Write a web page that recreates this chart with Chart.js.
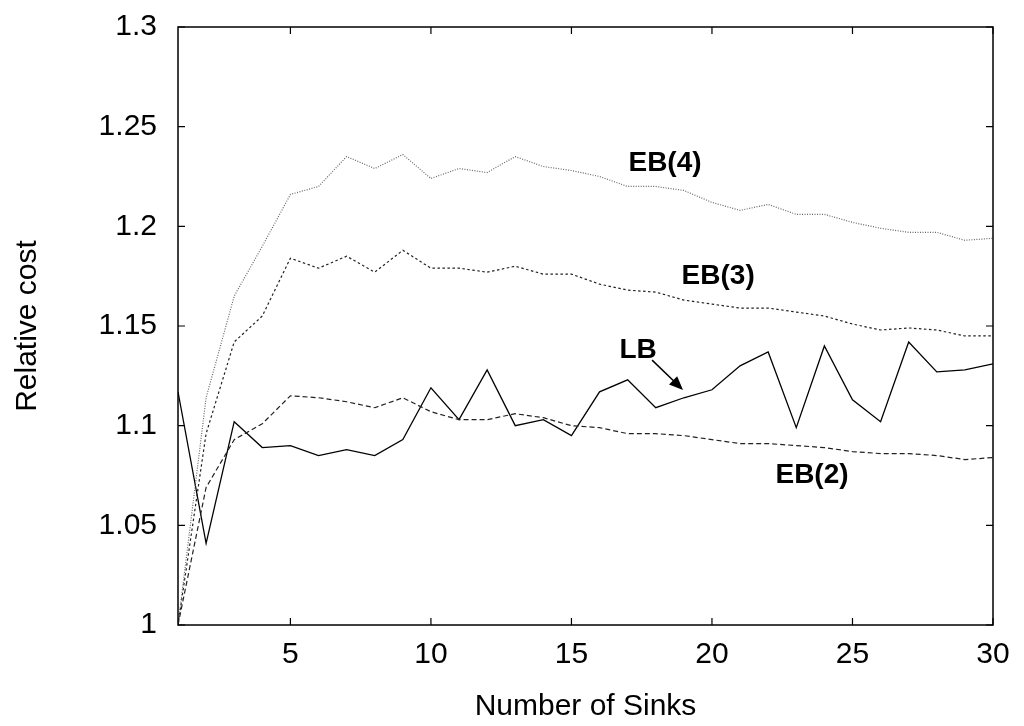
<!DOCTYPE html>
<html>
<head>
<meta charset="utf-8">
<script src="https://cdn.jsdelivr.net/npm/chart.js@4.4.0/dist/chart.umd.min.js"></script>
<style>
  body { margin: 0; background: #fff; }
  #wrap { width: 1024px; height: 726px; }
</style>
</head>
<body>
<div id="wrap"><canvas id="myChart"></canvas></div>
<script>
// number of sinks 1..30
const sinks = [];
for (let i = 1; i <= 30; i++) sinks.push(i);

const lbCost = [1.117, 1.041, 1.102, 1.089, 1.090, 1.085, 1.088, 1.085, 1.093, 1.119,
                1.103, 1.128, 1.100, 1.103, 1.095, 1.117, 1.123, 1.109, 1.114, 1.118,
                1.130, 1.137, 1.099, 1.140, 1.113, 1.102, 1.142, 1.127, 1.128, 1.131];
const eb2Cost = [1.000, 1.069, 1.093, 1.101, 1.115, 1.114, 1.112, 1.109, 1.114, 1.107,
                 1.103, 1.103, 1.106, 1.104, 1.100, 1.099, 1.096, 1.096, 1.095, 1.093,
                 1.091, 1.091, 1.090, 1.089, 1.087, 1.086, 1.086, 1.085, 1.083, 1.084];
const eb3Cost = [1.000, 1.096, 1.142, 1.155, 1.184, 1.179, 1.185, 1.177, 1.188, 1.179,
                 1.179, 1.177, 1.180, 1.176, 1.176, 1.171, 1.168, 1.167, 1.163, 1.161,
                 1.159, 1.159, 1.157, 1.155, 1.151, 1.148, 1.149, 1.148, 1.145, 1.145];
const eb4Cost = [1.000, 1.114, 1.165, 1.190, 1.216, 1.220, 1.235, 1.229, 1.236, 1.224,
                 1.229, 1.227, 1.235, 1.230, 1.228, 1.225, 1.220, 1.220, 1.218, 1.212,
                 1.208, 1.211, 1.206, 1.206, 1.202, 1.199, 1.197, 1.197, 1.193, 1.194];

const xTicks = [5, 10, 15, 20, 25, 30];
const yTicks = [1, 1.05, 1.1, 1.15, 1.2, 1.25, 1.3];

// curve labels, in data coordinates
const curveLabels = [
  { text: 'EB(4)', x: 18.33, y: 1.2318 },
  { text: 'EB(3)', x: 20.22, y: 1.175 },
  { text: 'LB', x: 17.37, y: 1.138 },
  { text: 'EB(2)', x: 23.56, y: 1.0752 }
];
const lbArrow = { x1: 17.87, y1: 1.1329, x2: 18.97, y2: 1.1179 };

const FONT = 'Liberation Sans, Arial, Helvetica, sans-serif';

function toPoints(vals) {
  return vals.map((v, i) => ({ x: sinks[i], y: v }));
}

// frame with inward tick marks, like the original gnuplot figure
const framePlugin = {
  id: 'frame',
  afterDraw(chart) {
    const ctx = chart.ctx;
    const a = chart.chartArea;
    const xs = chart.scales.x, ys = chart.scales.y;
    ctx.save();
    ctx.strokeStyle = '#000';
    ctx.lineWidth = 1.5;
    ctx.strokeRect(a.left, a.top, a.right - a.left, a.bottom - a.top);
    ctx.lineWidth = 1.2;
    ctx.beginPath();
    xTicks.forEach(v => {
      const px = xs.getPixelForValue(v);
      ctx.moveTo(px, a.bottom); ctx.lineTo(px, a.bottom - 7);
      ctx.moveTo(px, a.top); ctx.lineTo(px, a.top + 7);
    });
    yTicks.forEach(v => {
      const py = ys.getPixelForValue(v);
      ctx.moveTo(a.left, py); ctx.lineTo(a.left + 7, py);
      ctx.moveTo(a.right, py); ctx.lineTo(a.right - 7, py);
    });
    ctx.stroke();
    ctx.restore();
  }
};

const labelPlugin = {
  id: 'curveLabels',
  afterDatasetsDraw(chart) {
    const ctx = chart.ctx;
    const xs = chart.scales.x, ys = chart.scales.y;
    ctx.save();
    ctx.fillStyle = '#000';
    ctx.font = 'bold 28px ' + FONT;
    ctx.textAlign = 'center';
    ctx.textBaseline = 'middle';
    curveLabels.forEach(l => {
      ctx.fillText(l.text, xs.getPixelForValue(l.x), ys.getPixelForValue(l.y));
    });
    // arrow from LB to its curve
    const x1 = xs.getPixelForValue(lbArrow.x1), y1 = ys.getPixelForValue(lbArrow.y1);
    const x2 = xs.getPixelForValue(lbArrow.x2), y2 = ys.getPixelForValue(lbArrow.y2);
    const ang = Math.atan2(y2 - y1, x2 - x1);
    ctx.strokeStyle = '#000';
    ctx.lineWidth = 1.5;
    ctx.beginPath();
    ctx.moveTo(x1, y1);
    ctx.lineTo(x2 - 10 * Math.cos(ang), y2 - 10 * Math.sin(ang));
    ctx.stroke();
    ctx.beginPath();
    ctx.moveTo(x2, y2);
    ctx.lineTo(x2 - 15 * Math.cos(ang - 0.4), y2 - 15 * Math.sin(ang - 0.4));
    ctx.lineTo(x2 - 15 * Math.cos(ang + 0.4), y2 - 15 * Math.sin(ang + 0.4));
    ctx.closePath();
    ctx.fill();
    ctx.restore();
  }
};

const ctx = document.getElementById('myChart').getContext('2d');
const myChart = new Chart(ctx, {
  type: 'line',
  data: {
    datasets: [
      { label: 'EB(4)', data: toPoints(eb4Cost), borderColor: '#666', borderWidth: 1.2, borderDash: [1, 1.5] },
      { label: 'EB(3)', data: toPoints(eb3Cost), borderColor: '#222', borderWidth: 1.2, borderDash: [2.5, 2.5] },
      { label: 'EB(2)', data: toPoints(eb2Cost), borderColor: '#222', borderWidth: 1.2, borderDash: [5, 3] },
      { label: 'LB', data: toPoints(lbCost), borderColor: '#000', borderWidth: 1.3 }
    ]
  },
  options: {
    responsive: true,
    maintainAspectRatio: false,
    animation: false,
    layout: { padding: { left: 0, right: 31, top: 27, bottom: 0 } },
    elements: { point: { radius: 0 }, line: { tension: 0, fill: false } },
    plugins: { legend: { display: false }, tooltip: { enabled: false } },
    scales: {
      x: {
        type: 'linear',
        min: 1,
        max: 30,
        afterBuildTicks: s => { s.ticks = xTicks.map(v => ({ value: v })); },
        afterFit: s => { s.height = 101; },
        grid: { display: false, drawTicks: false },
        border: { display: false },
        ticks: { color: '#000', font: { family: FONT, size: 30 }, padding: 12, maxRotation: 0 },
        title: { display: true, text: 'Number of Sinks', color: '#000', font: { family: FONT, size: 30 }, padding: { top: 0, bottom: 1 } }
      },
      y: {
        min: 1,
        max: 1.3,
        afterBuildTicks: s => { s.ticks = yTicks.map(v => ({ value: v })); },
        afterFit: s => { s.width = 178; },
        grid: { display: false, drawTicks: false },
        border: { display: false },
        ticks: { color: '#000', font: { family: FONT, size: 30, lineHeight: 0.3 }, padding: 21, callback: v => String(+v.toFixed(2)) },
        title: { display: true, text: 'Relative cost', color: '#000', font: { family: FONT, size: 30 }, padding: { top: 10, bottom: 0 } }
      }
    }
  },
  plugins: [framePlugin, labelPlugin]
});
</script>
</body>
</html>
